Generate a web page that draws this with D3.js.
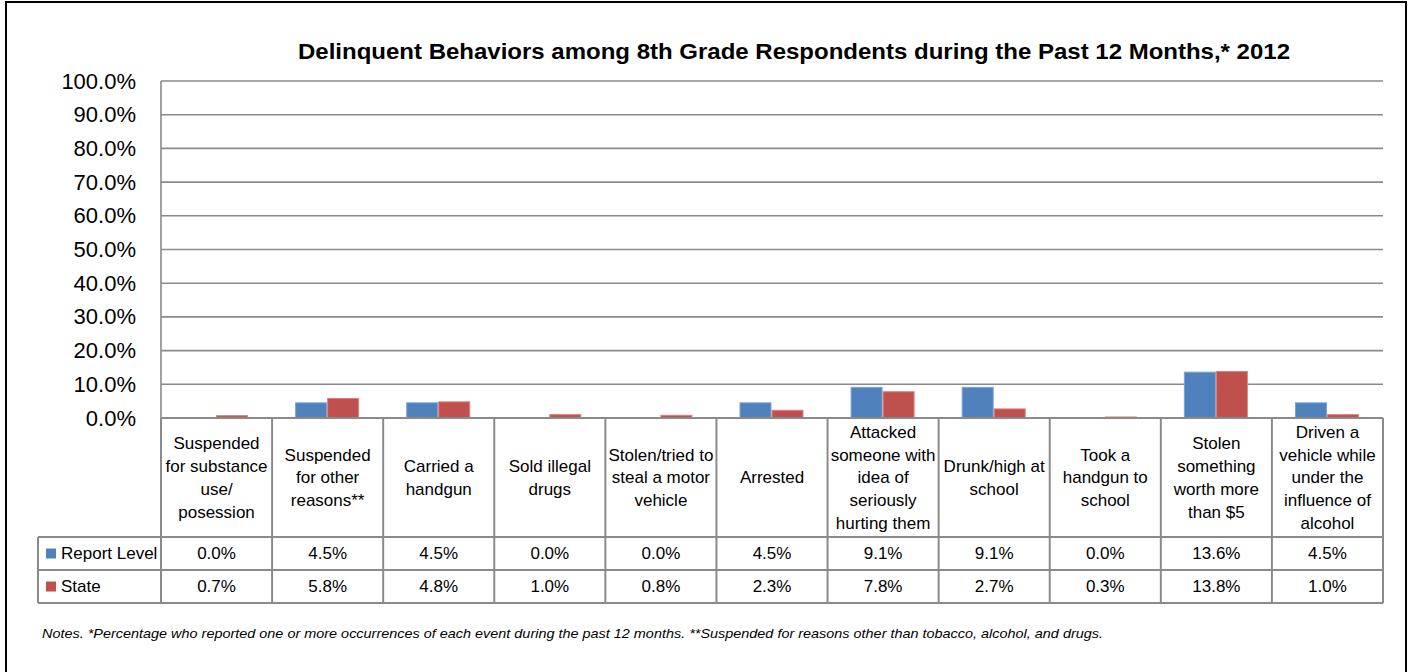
<!DOCTYPE html>
<html><head><meta charset="utf-8">
<script src="https://cdn.jsdelivr.net/npm/d3@7"></script>
<style>
html,body{margin:0;padding:0;background:#fff;}
svg{display:block;font-family:"Liberation Sans Narrow","Arial Narrow","Liberation Sans",Arial,sans-serif;}
</style></head>
<body>
<script>
const title = "Delinquent Behaviors among 8th Grade Respondents during the Past 12 Months,* 2012";
const categories = [
  ["Suspended","for substance","use/","posession"],
  ["Suspended","for other","reasons**"],
  ["Carried a","handgun"],
  ["Sold illegal","drugs"],
  ["Stolen/tried to","steal a motor","vehicle"],
  ["Arrested"],
  ["Attacked","someone with","idea of","seriously","hurting them"],
  ["Drunk/high at","school"],
  ["Took a","handgun to","school"],
  ["Stolen","something","worth more","than $5"],
  ["Driven a","vehicle while","under the","influence of","alcohol"]
];
const seriesNames = ["Report Level","State"];
const reportLevel = [0.0,4.5,4.5,0.0,0.0,4.5,9.1,9.1,0.0,13.6,4.5];
const stateValues = [0.7,5.8,4.8,1.0,0.8,2.3,7.8,2.7,0.3,13.8,1.0];
const yTicks = [0,10,20,30,40,50,60,70,80,90,100];
const colors = ["#4F81BD","#C0504D"];
const strokes = ["#7aa3d6","#e07f7c"];
const note = "Notes. *Percentage who reported one or more occurrences of each event during the past 12 months. **Suspended for reasons other than tobacco, alcohol, and drugs.";

const W = 1412, H = 672;
const svg = d3.select("body").append("svg").attr("width",W).attr("height",H);

// outer frame
svg.append("rect").attr("x",6).attr("y",2).attr("width",1400).attr("height",700)
  .attr("fill","none").attr("stroke","#000").attr("stroke-width",2);

const pLeft = 161, pRight = 1383, pTop = 81, pBase = 418;
const idx = categories.map((d,i)=>i);
const x0 = d3.scaleBand().domain(idx).range([pLeft,pRight]).padding(0);
const groupW = 64;
const x1 = d3.scaleBand().domain([0,1]).range([0,groupW]).padding(0);
const y = d3.scaleLinear().domain([0,100]).range([pBase,pTop]);

const gridColor = "#8a8a8a";

// gridlines
svg.append("g").selectAll("line").data(yTicks).join("line")
  .attr("x1",pLeft).attr("x2",pRight)
  .attr("y1",d=>y(d)).attr("y2",d=>y(d))
  .attr("stroke",gridColor).attr("stroke-width",1.6);
svg.append("line").attr("x1",pLeft).attr("x2",pLeft).attr("y1",pTop).attr("y2",pBase)
  .attr("stroke",gridColor).attr("stroke-width",1.6);

// y labels
const yAxis = d3.axisLeft(y).tickValues(yTicks).tickFormat(d=>d3.format(".1f")(d)+"%").tickSize(0).tickPadding(25);
const ya = svg.append("g").attr("transform",`translate(${pLeft},0)`).call(yAxis);
ya.select(".domain").remove();
ya.selectAll("text").attr("font-size",22).attr("fill","#000")
  .attr("font-family","'Liberation Sans Narrow','Arial Narrow','Liberation Sans',Arial,sans-serif");

// bars
const series = [reportLevel, stateValues];
series.forEach((vals,s)=>{
  svg.append("g").selectAll("rect").data(vals).join("rect")
    .attr("x",(d,i)=>x0(i)+(x0.bandwidth()-groupW)/2 + x1(s))
    .attr("width",x1.bandwidth()-1)
    .attr("y",d=>y(d))
    .attr("height",d=>pBase-y(d))
    .attr("fill",colors[s])
    .attr("stroke",d=>d>0?strokes[s]:"none").attr("stroke-width",1);
});

// table
const rowH = [pBase, 537, 570, 603];
const tableLeft = 38;
const tg = svg.append("g");
const lineAttr = sel => sel.attr("stroke",gridColor).attr("stroke-width",2).attr("fill","none");
tg.append("line").attr("x1",pLeft).attr("x2",pRight).attr("y1",pBase).attr("y2",pBase).call(lineAttr);
[537,570,603].forEach(yy=>{
  tg.append("line").attr("x1",tableLeft).attr("x2",pRight).attr("y1",yy).attr("y2",yy).call(lineAttr);
});
const bounds = idx.map(i=>x0(i)).concat([pRight]);
bounds.forEach(xx=>{
  tg.append("line").attr("x1",xx).attr("x2",xx).attr("y1",pBase).attr("y2",603).call(lineAttr);
});
tg.append("line").attr("x1",tableLeft).attr("x2",tableLeft).attr("y1",537).attr("y2",603).call(lineAttr);

// category labels
const lh = 22.8;
categories.forEach((lines,i)=>{
  const cx = x0(i)+x0.bandwidth()/2;
  const cy = (pBase+537)/2;
  const startY = cy - (lines.length-1)*lh/2;
  const t = tg.append("text").attr("text-anchor","middle").attr("font-size",17).attr("fill","#000");
  lines.forEach((ln,k)=>{
    t.append("tspan").attr("x",cx).attr("y",startY+k*lh).attr("dy","0.35em").text(ln);
  });
});

// values rows + legend
series.forEach((vals,s)=>{
  const cy = (rowH[s+1]+rowH[s+2])/2;
  tg.append("g").selectAll("text").data(vals).join("text")
    .attr("x",(d,i)=>x0(i)+x0.bandwidth()/2).attr("y",cy).attr("dy","0.35em")
    .attr("text-anchor","middle").attr("font-size",17).attr("fill","#000")
    .text(d=>d3.format(".1f")(d)+"%");
  tg.append("rect").attr("x",46).attr("y",cy-5).attr("width",10).attr("height",10).attr("fill",colors[s]);
  tg.append("text").attr("x",61).attr("y",cy).attr("dy","0.35em").attr("font-size",17).attr("fill","#000")
    .text(seriesNames[s]);
});

// title
svg.append("text").attr("x",298).attr("y",51).attr("dy","0.35em")
  .attr("font-size",22).attr("font-weight","bold").attr("fill","#000")
  .attr("textLength",992).attr("lengthAdjust","spacingAndGlyphs").text(title);

// notes
svg.append("text").attr("x",42).attr("y",633).attr("dy","0.35em")
  .attr("font-size",13).attr("font-style","italic").attr("fill","#000")
  .attr("textLength",1061).attr("lengthAdjust","spacingAndGlyphs").text(note);
</script>
</body></html>
